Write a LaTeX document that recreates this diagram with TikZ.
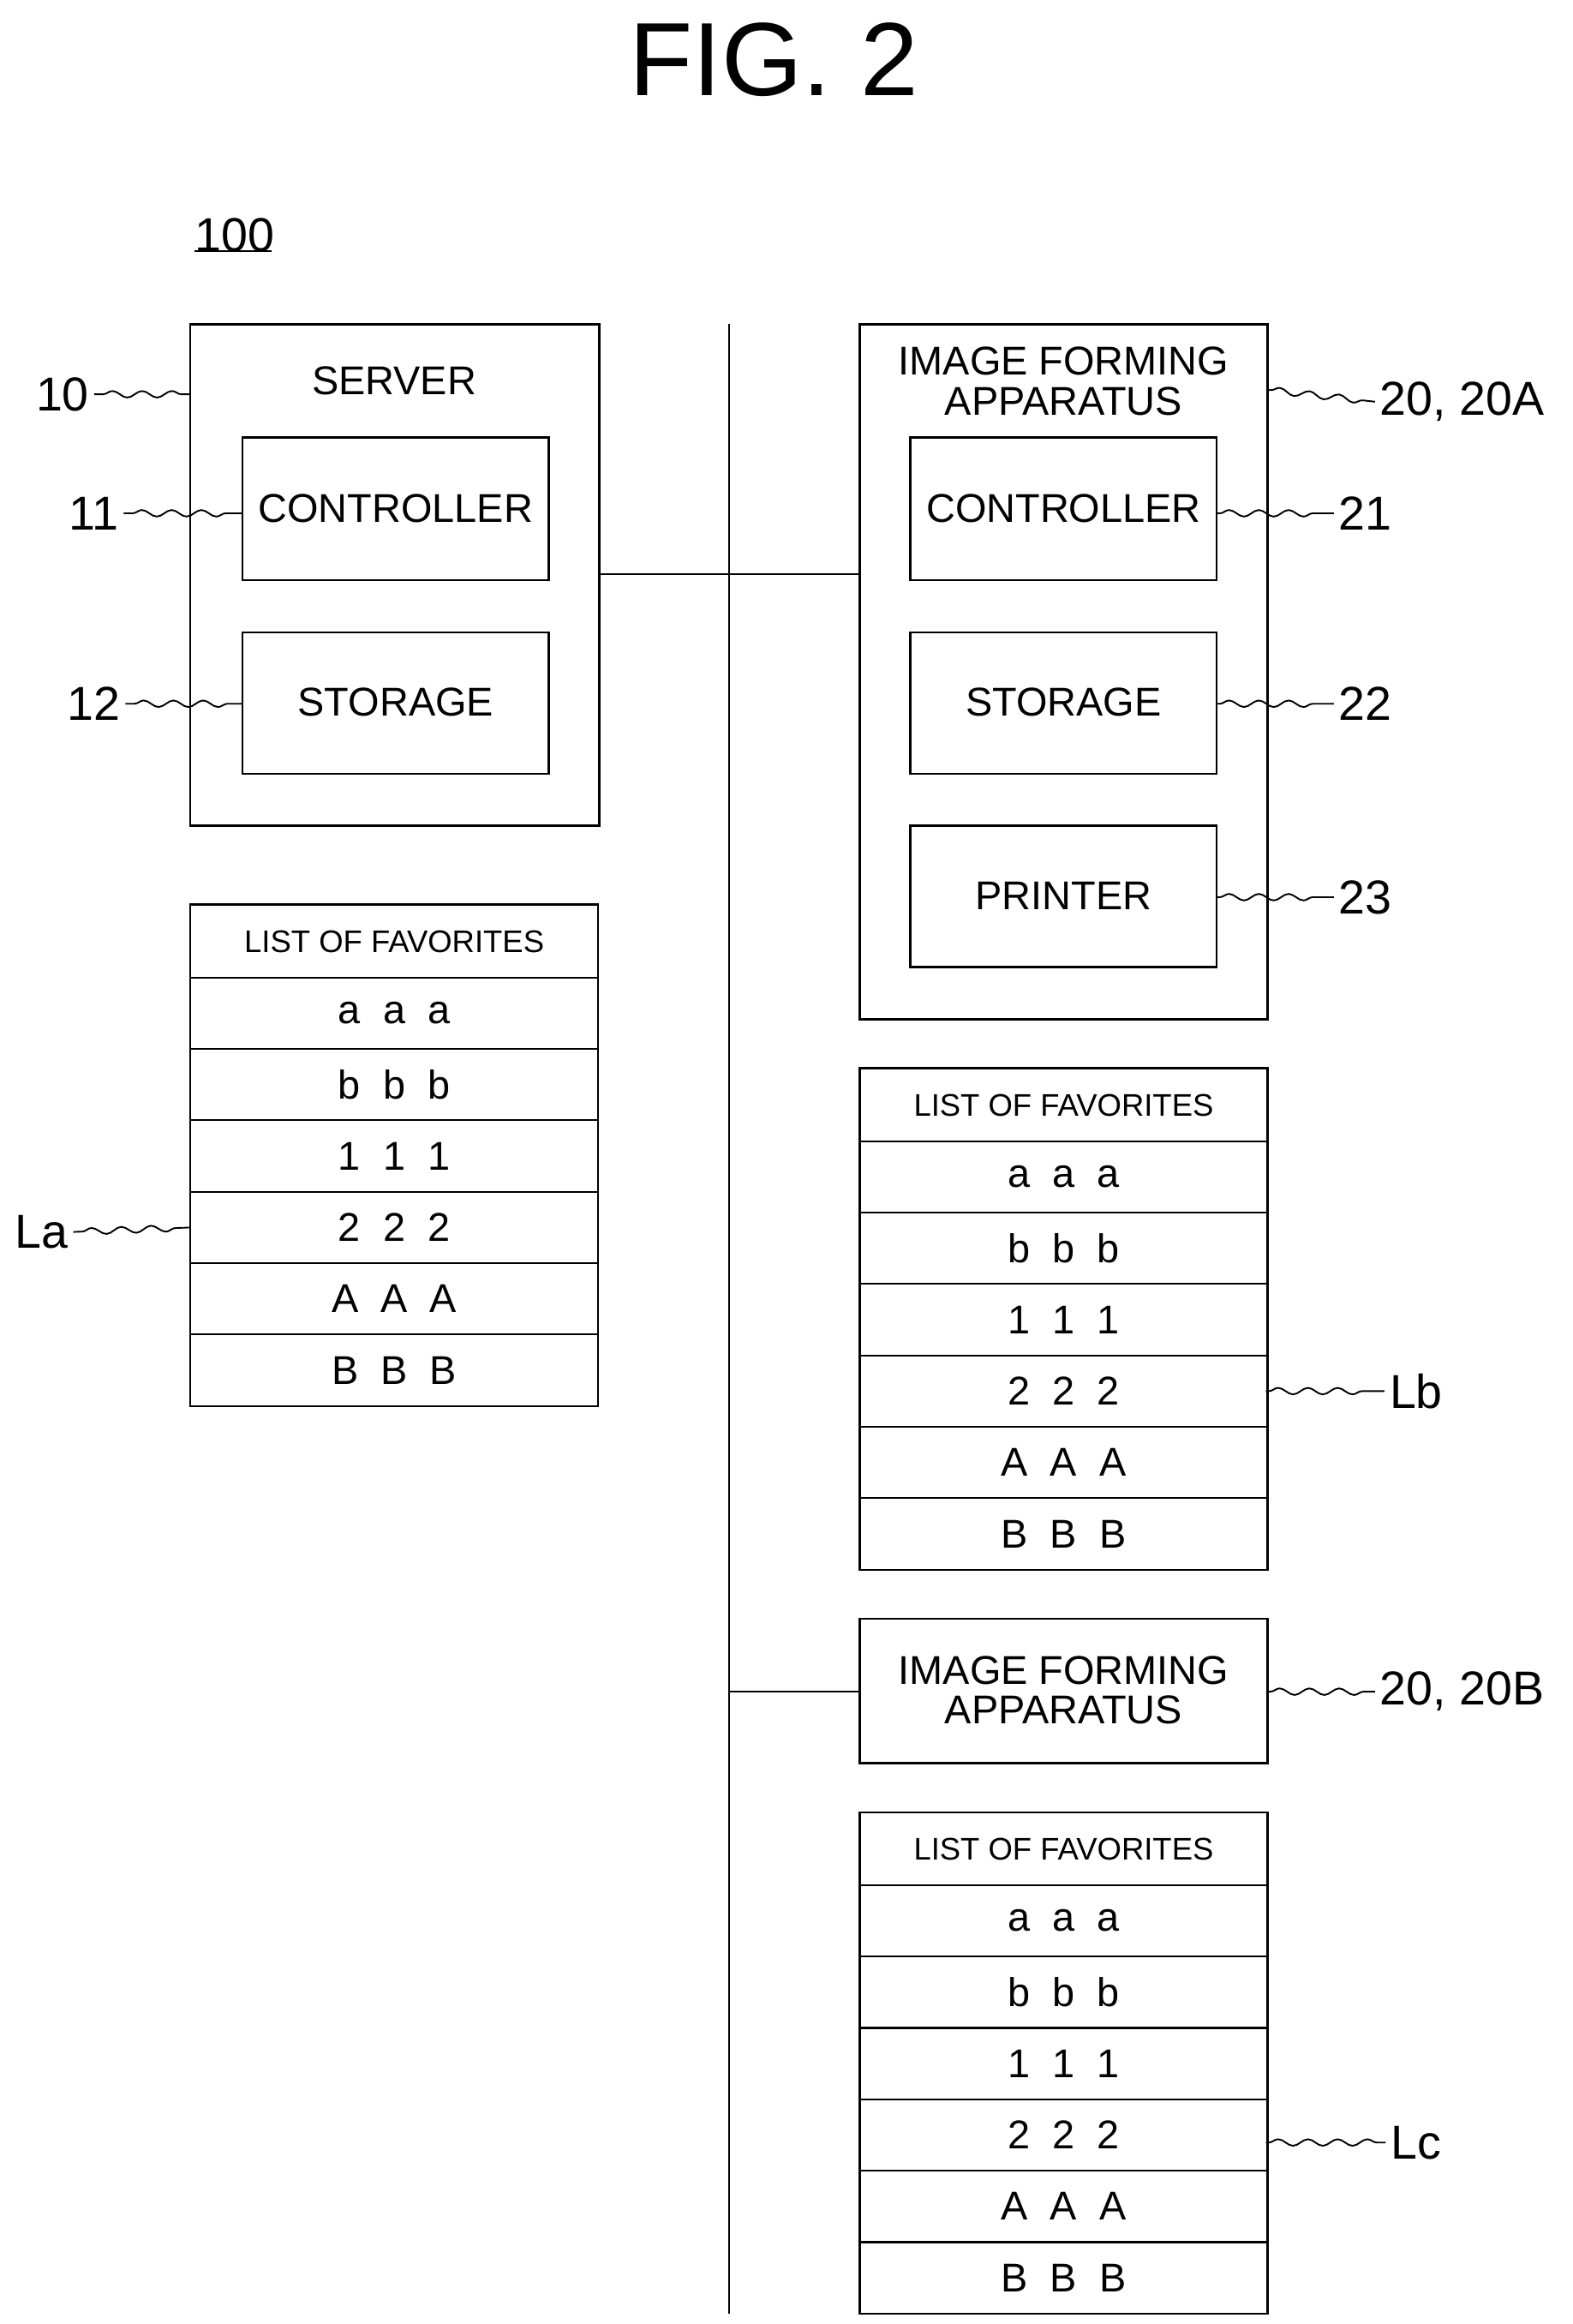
\documentclass[tikz,border=0pt]{standalone}
\usepackage{fontspec}
\setmainfont{Liberation Sans}
\usetikzlibrary{decorations.pathmorphing}
\begin{document}
\begin{tikzpicture}[x=1pt,y=-1pt,
  box/.style={draw,line width=1.4pt,inner sep=0pt},
  txt/.style={font=\fontsize{27}{30}\selectfont,align=center},
  small/.style={font=\fontsize{21}{24}\selectfont},
  lab/.style={font=\fontsize{32}{36}\selectfont},
  wave/.style={line width=1.1pt,decorate,decoration={snake,amplitude=2.2pt,segment length=20pt,pre length=6pt,post length=2pt}},
  rwave/.style={line width=1.1pt,decorate,decoration={snake,amplitude=2.2pt,segment length=20pt,pre length=2pt,post length=6pt}},
  ln/.style={line width=1.4pt}]
\useasboundingbox (0,0) rectangle (1057,1562);
\node[font=\fontsize{70}{80}\selectfont] (title) at (520,40) {FIG. 2};
\node[lab] (n100) at (158,158) {100};
\draw[line width=1.2pt] (n100.south west)++(3,-4) -- ++(52,0);
% server
\draw[box] (128,218) rectangle (403,555);
\node[txt] (srvt) at (265,256) {SERVER};
\draw[box] (163,294) rectangle (369,390); \node[txt] (c11) at (266,342) {CONTROLLER};
\draw[box] (163,425) rectangle (369,520); \node[txt] (s12) at (266,472) {STORAGE};
\node[lab] (l10) at (42,265) {10};
\node[lab] (l11) at (63,345) {11};
\node[lab] (l12) at (63,473) {12};
\coordinate (e10) at (128,265); \coordinate (e11) at (163,345); \coordinate (e12) at (163,473);
\draw[wave] (l10.east) -- (e10);
\draw[wave] (l11.east) -- (e11);
\draw[wave] (l12.east) -- (e12);
% bus
\coordinate (bt) at (490,218); \coordinate (bb) at (490,1555);
\draw[ln] (bt) -- (bb);
\coordinate (h1) at (403,386); \coordinate (h2) at (578,386);
\draw[ln] (h1) -- (h2);
% IFA A
\draw[box] (578,218) rectangle (852,685);
\node[txt] (ifat) at (715,256) {IMAGE FORMING\\[-3pt]APPARATUS};
\draw[box] (612,294) rectangle (818,390); \node[txt] (c21) at (715,342) {CONTROLLER};
\draw[box] (612,425) rectangle (818,520); \node[txt] (s22) at (715,472) {STORAGE};
\draw[box] (612,555) rectangle (818,650); \node[txt] (p23) at (715,602) {PRINTER};
\node[lab] (l20a) at (983,270) {20, 20A};
\node[lab] (l21) at (918,345) {21};
\node[lab] (l22) at (918,473) {22};
\node[lab] (l23) at (918,603) {23};
\coordinate (e20a) at (852,262); \coordinate (e21) at (818,345); \coordinate (e22) at (818,473); \coordinate (e23) at (818,603);
\draw[rwave] (e20a) -- (l20a.west);
\draw[rwave] (e21) -- (l21.west);
\draw[rwave] (e22) -- (l22.west);
\draw[rwave] (e23) -- (l23.west);
% IFA B
\draw[box] (578,1088) rectangle (852,1185);
\node[txt] (ifbt) at (715,1136) {IMAGE FORMING\\[-3pt]APPARATUS};
\coordinate (g1) at (490,1137); \coordinate (g2) at (578,1137);
\draw[ln] (g1) -- (g2);
\node[lab] (l20b) at (983,1137) {20, 20B};
\coordinate (e20b) at (852,1137);
\draw[rwave] (e20b) -- (l20b.west);
% lists
\foreach \nm/\x/\y in {La/128/608, Lb/578/718, Lc/578/1218}{
  \draw[box] (\x,\y) rectangle ++(274,337);
  \node[small] (\nm h) at (\x+137,\y+25) {LIST OF FAVORITES};
  \foreach \i in {0,...,5} \draw[line width=1.2pt] (\x,\y+49+\i*48) -- ++(274,0);
  \foreach \t [count=\i from 0] in {a\ \ a\ \ a, b\ \ b\ \ b, 1\ \ 1\ \ 1, 2\ \ 2\ \ 2, A\ \ A\ \ A, B\ \ B\ \ B}
    \node[txt] (\nm\i) at (\x+137,\y+73+\i*48) {\t};
}
\node[lab] (lLa) at (28,828) {La};
\coordinate (eLa) at (128,825);
\draw[wave] (lLa.east) -- (eLa);
\node[lab] (lLb) at (952,935) {Lb};
\coordinate (eLb) at (851,935);
\draw[rwave] (eLb) -- (lLb.west);
\node[lab] (lLc) at (952,1440) {Lc};
\coordinate (eLc) at (851,1440);
\draw[rwave] (eLc) -- (lLc.west);
\end{tikzpicture}
\end{document}
